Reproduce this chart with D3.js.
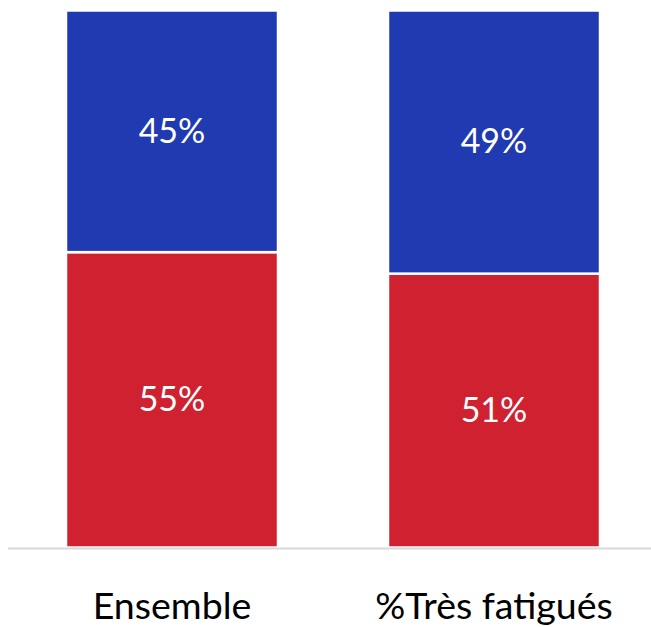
<!DOCTYPE html>
<html><head><meta charset="utf-8">
<script src="https://cdn.jsdelivr.net/npm/d3@7"></script>
<style>html,body{margin:0;padding:0;background:#fff;}svg{display:block;}</style>
</head><body>
<svg id="chart" width="651" height="627"></svg>
<script>
const categories = ["Ensemble", "%Très fatigués"];
const seriesNames = ["bas", "haut"];
const bottomValues = [55, 51];
const topValues = [45, 49];
const colors = ["#d02131", "#203bb1"];

const W = 651, H = 627;
const svg = d3.select("#chart");
const x = d3.scaleBand().domain(categories).range([10, 656]).paddingInner(0.3416).paddingOuter(0.1739);
const y = d3.scaleLinear().domain([0, 100]).range([547.5, 10.5]);

const data = categories.map((c, i) => ({ cat: c, [seriesNames[0]]: bottomValues[i], [seriesNames[1]]: topValues[i] }));
const stack = d3.stack().keys(seriesNames)(data);

const g = svg.append("g");
stack.forEach((layer, li) => {
  g.selectAll(null).data(layer).enter().append("rect")
    .attr("x", d => x(d.data.cat))
    .attr("width", x.bandwidth())
    .attr("y", d => y(d[1]))
    .attr("height", d => y(d[0]) - y(d[1]))
    .attr("fill", colors[li])
    .attr("stroke", "#fff")
    .attr("stroke-width", 2.5);
  g.selectAll(null).data(layer).enter().append("text")
    .attr("x", d => x(d.data.cat) + x.bandwidth() / 2)
    .attr("y", d => (y(d[0]) + y(d[1])) / 2)
    .attr("dy", "0.33em")
    .attr("text-anchor", "middle")
    .attr("fill", "#fff")
    .attr("font-family", "Lato, 'Noto Sans', sans-serif")
    .attr("font-size", 34)
    .text(d => (d[1] - d[0]) + "%");
});

svg.append("line").attr("x1", 8).attr("x2", 651).attr("y1", 548.5).attr("y2", 548.5)
  .attr("stroke", "#d9d9d9").attr("stroke-width", 2);

const xAxis = d3.axisBottom(x).tickSize(0).tickPadding(0);
const ax = svg.append("g").attr("transform", "translate(0,548)").call(xAxis);
ax.select(".domain").remove();
ax.selectAll("text")
  .attr("y", 71)
  .attr("dy", 0)
  .attr("fill", "#000")
  .attr("font-family", "Lato, 'Noto Sans', sans-serif")
  .attr("font-size", 37.5);
</script>
</body></html>
